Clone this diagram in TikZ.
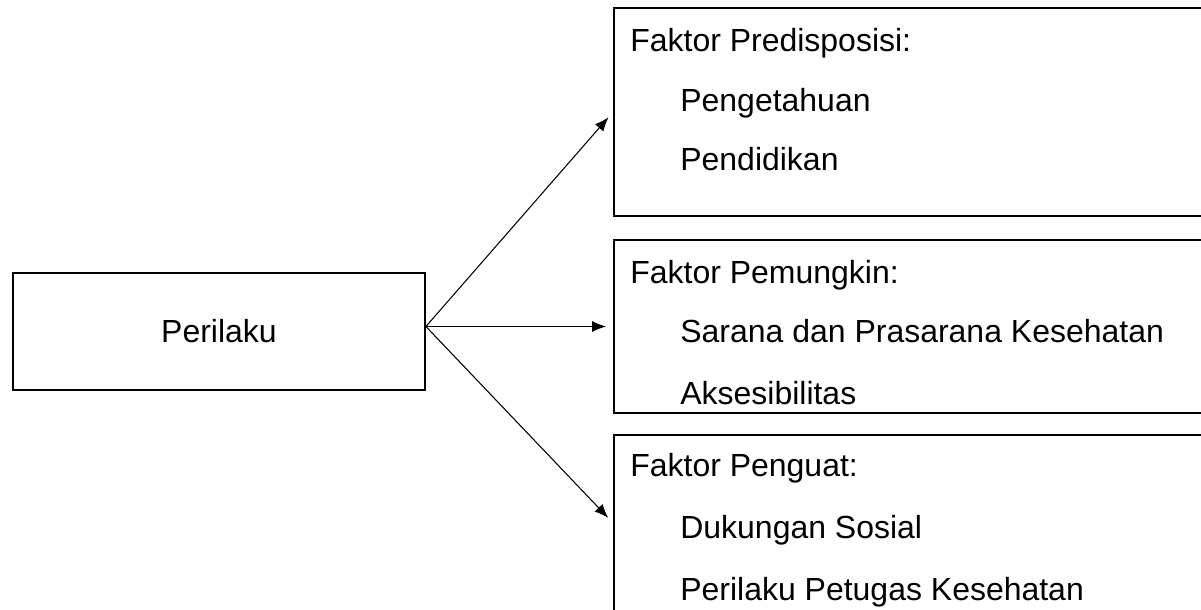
\documentclass[tikz,border=0pt]{standalone}
\usepackage{fontspec}
\setmainfont{Liberation Sans}
\usetikzlibrary{arrows.meta}

\tikzset{
	FaktorBox/.style = {draw=black,shape=rectangle,line width=1.1pt,inner sep=0pt,
		minimum width=12.02cm},
	LabelText/.style = {anchor=base west,inner sep=0pt},
	EdgeStyle/.style = {-{Latex[length=0.28cm,width=0.22cm]},line width=0.6pt,shorten >=0.14cm}
}

\begin{document}
\begin{tikzpicture}[x=0.02cm,y=-0.02cm,font=\fontsize{18.2}{22}\selectfont]
		\clip (0,0) rectangle (1201,609);
		%\draw[help lines] (0,0) grid (1201,609);
		\node[FaktorBox,minimum width=8.24cm,minimum height=2.34cm] (perilaku) at (219,331.5) {Perilaku};
		{
			% boxes on the right run past the page edge
			\node[FaktorBox,minimum height=4.16cm] (predisposisi) at (914.5,112) {};
			\node[FaktorBox,minimum height=3.46cm] (pemungkin) at (914.5,326.5) {};
			\node[FaktorBox,minimum height=3.52cm] (penguat) at (914.5,523) {};
		}
		\node[LabelText] (pre0) at (630,51) {Faktor Predisposisi:};
		\node[LabelText] (pre1) at (680,111) {Pengetahuan};
		\node[LabelText] (pre2) at (680,170) {Pendidikan};
		\node[LabelText] (pem0) at (630,283) {Faktor Pemungkin:};
		\node[LabelText] (pem1) at (680,342) {Sarana dan Prasarana Kesehatan};
		\node[LabelText] (pem2) at (680,404) {Aksesibilitas};
		\node[LabelText] (pen0) at (630,476) {Faktor Penguat:};
		\node[LabelText] (pen1) at (680,538) {Dukungan Sosial};
		\node[LabelText] (pen2) at (680,600) {Perilaku Petugas Kesehatan};
		% all three arrows leave from one point on the right side
		\coordinate (hub) at (perilaku.east |- pemungkin.west);
		\draw[EdgeStyle] (hub) -- (predisposisi.west);
		\draw[EdgeStyle] (hub) -- (pemungkin.west);
		\draw[EdgeStyle] (hub) -- (penguat.west);
	\end{tikzpicture}
\end{document}
